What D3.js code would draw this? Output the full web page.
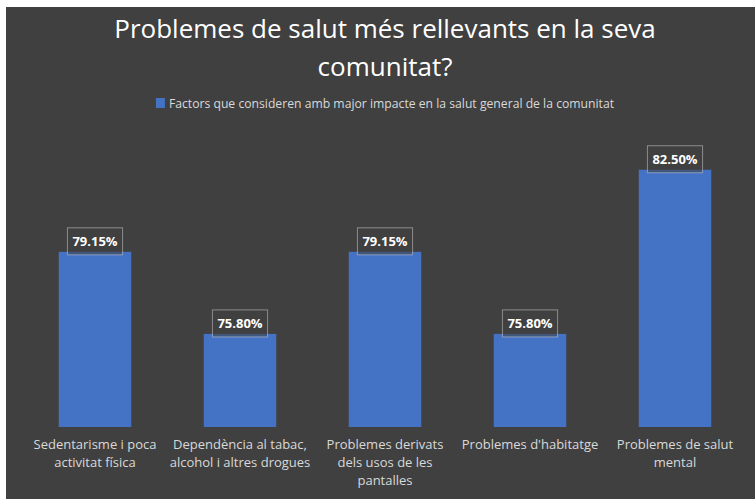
<!DOCTYPE html>
<html>
<head>
<meta charset="utf-8">
<script src="https://cdn.jsdelivr.net/npm/d3@7"></script>
<style>
  html, body { margin: 0; padding: 0; background: #ffffff; }
  svg { display: block; }
</style>
</head>
<body>
<svg id="chart" width="755" height="502"></svg>
<script>
const titleLines = ["Problemes de salut més rellevants en la seva", "comunitat?"];
const seriesName = "Factors que consideren amb major impacte en la salut general de la comunitat";
const categories = [
  "Sedentarisme i poca activitat física",
  "Dependència al tabac, alcohol i altres drogues",
  "Problemes derivats dels usos de les pantalles",
  "Problemes d'habitatge",
  "Problemes de salut mental"
];
const values = [79.15, 75.80, 79.15, 75.80, 82.50];
const yDomain = [72, 84];

const FONT = "'Open Sans', 'Noto Sans', sans-serif";
const svg = d3.select("#chart");
const W = 755, H = 502;

// chart area (white margin at top/left like the screenshot)
svg.append("rect").attr("x", 6).attr("y", 7).attr("width", W - 6).attr("height", 492)
  .attr("fill", "#404040");

// title
svg.append("g").selectAll("text").data(titleLines).join("text")
  .attr("x", 385).attr("y", (d, i) => 38 + i * 38)
  .attr("text-anchor", "middle")
  .attr("fill", "#ffffff")
  .attr("font-family", FONT)
  .attr("font-size", 26)
  .text(d => d);

// legend
const legend = svg.append("g");
const legText = legend.append("text")
  .attr("x", 160).attr("y", 108)
  .attr("fill", "#d9d9d9")
  .attr("font-family", FONT)
  .attr("font-size", 12.2)
  .text(seriesName);
const lw = legText.node().getComputedTextLength();
const lx = 385 - (lw + 13) / 2;
legText.attr("x", lx + 13);
legend.append("rect").attr("x", lx).attr("y", 98).attr("width", 9).attr("height", 10)
  .attr("fill", "#4472C4");

// scales
const x = d3.scaleBand().domain(categories).range([22.5, 747.5]).paddingInner(0.5).paddingOuter(0.25);
const y = d3.scaleLinear().domain(yDomain).range([427, 133]);

// bars
svg.append("g").selectAll("rect").data(values).join("rect")
  .attr("x", (d, i) => x(categories[i]))
  .attr("width", x.bandwidth())
  .attr("y", d => y(d))
  .attr("height", d => y(yDomain[0]) - y(d))
  .attr("fill", "#4472C4");

// data labels
const lbl = svg.append("g");
values.forEach((v, i) => {
  const cx = x(categories[i]) + x.bandwidth() / 2;
  const top = y(v);
  const g = lbl.append("g");
  const t = g.append("text")
    .attr("x", cx).attr("y", top - 6)
    .attr("text-anchor", "middle")
    .attr("fill", "#ffffff")
    .attr("font-family", FONT)
    .attr("font-weight", "bold")
    .attr("font-size", 13)
    .text(v.toFixed(2) + "%");
  const tw = t.node().getComputedTextLength();
  g.insert("rect", "text")
    .attr("x", cx - tw / 2 - 5).attr("y", top - 24)
    .attr("width", tw + 10).attr("height", 27)
    .attr("fill", "rgba(64,64,64,0.55)")
    .attr("stroke", "rgba(217,217,217,0.5)")
    .attr("stroke-width", 1);
});

// category labels with wrapping
const axisG = svg.append("g").attr("transform", `translate(0,${y(yDomain[0])})`);
const xAxis = d3.axisBottom(x).tickSize(0).tickPadding(0);
axisG.call(xAxis);
axisG.select(".domain").remove();
axisG.selectAll(".tick text")
  .attr("fill", "#d9d9d9")
  .attr("font-family", FONT)
  .attr("font-size", 13)
  .each(function(d) {
    const el = d3.select(this);
    const words = d.split(/\s+/);
    el.text(null);
    const maxW = 142;
    let line = [];
    let lineNo = 0;
    let tspan = el.append("tspan").attr("x", 0).attr("y", 22);
    words.forEach(w => {
      line.push(w);
      tspan.text(line.join(" "));
      if (tspan.node().getComputedTextLength() > maxW && line.length > 1) {
        line.pop();
        tspan.text(line.join(" "));
        line = [w];
        lineNo++;
        tspan = el.append("tspan").attr("x", 0).attr("y", 22 + lineNo * 18).text(w);
      }
    });
  })
  .attr("dy", null);
</script>
</body>
</html>
